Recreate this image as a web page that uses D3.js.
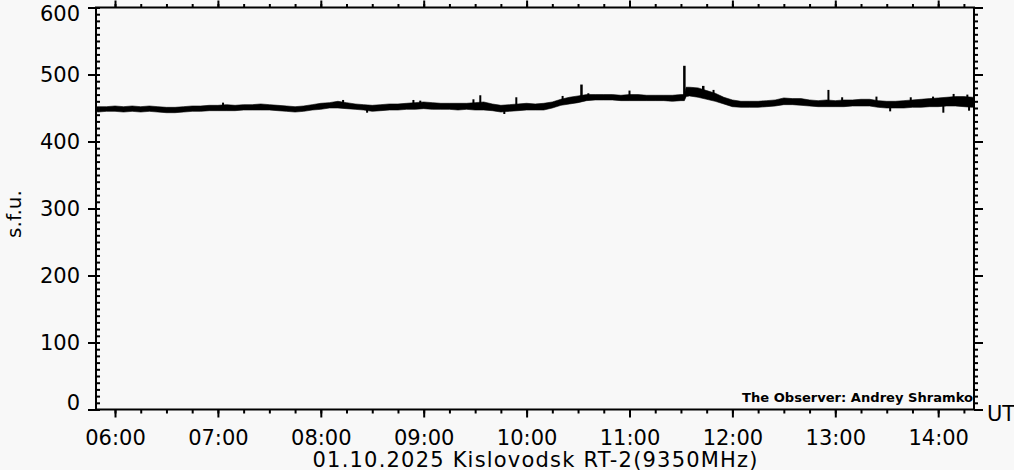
<!DOCTYPE html>
<html><head><meta charset="utf-8">
<script src="https://cdn.jsdelivr.net/npm/d3@7"></script>
<style>
html,body{margin:0;padding:0;background:#f8f8f8;}
svg{display:block;background:#f8f8f8;}
text{font-family:"DejaVu Sans",sans-serif;fill:#000;}
</style>
</head><body>
<svg id="c" width="1014" height="470"></svg>
<script>
// ---- data (flux in s.f.u., 9350 MHz, 01.10.2025 UT) ----
const times = [
  "05:49","05:50","05:55",
  "06:00","06:05","06:10","06:15","06:20","06:25","06:30","06:35","06:40","06:45","06:50","06:55",
  "07:00","07:05","07:10","07:15","07:20","07:25","07:30","07:35","07:40","07:45","07:50","07:55",
  "08:00","08:05","08:10","08:15","08:20","08:25","08:30","08:35","08:40","08:45","08:50","08:55",
  "09:00","09:05","09:10","09:15","09:20","09:25","09:30","09:35","09:40","09:45","09:50","09:55",
  "10:00","10:05","10:10","10:15","10:20","10:25","10:30","10:35","10:40","10:45","10:50","10:55",
  "11:00","11:05","11:10","11:15","11:20","11:25","11:30","11:32","11:33","11:35","11:40","11:45","11:50","11:55",
  "12:00","12:05","12:10","12:15","12:20","12:25","12:30","12:35","12:40","12:45","12:50","12:55",
  "13:00","13:05","13:10","13:15","13:20","13:25","13:30","13:35","13:40","13:45","13:50","13:55",
  "14:00","14:05","14:10","14:15","14:20","14:21"
];
const fluxLow = [
  445,444,445,
  445,444,445,444,445,444,443,443,444,445,445,446,
  446,446,446,447,447,447,447,446,445,444,445,447,
  448,450,450,449,448,447,445,446,447,447,448,448,
  449,448,448,448,447,448,447,447,446,444,445,446,
  447,447,447,450,454,456,458,461,462,462,462,461,
  461,461,461,461,461,460,461,461,467,468,466,463,460,456,
  452,451,451,451,452,453,455,455,454,453,452,452,
  452,452,453,453,453,451,450,450,450,451,451,452,
  452,453,453,452,451,452
];
const fluxHigh = [
  452,452,452,
  453,452,453,452,453,452,451,451,452,453,453,454,
  454,455,454,455,455,456,455,454,453,452,453,455,
  457,458,460,458,456,455,454,455,456,456,457,458,
  459,458,457,457,457,457,458,459,456,454,455,456,
  457,456,457,459,463,466,468,470,470,470,470,469,
  470,470,469,469,469,469,470,470,481,481,480,476,472,466,
  462,460,460,460,461,462,465,464,464,462,461,462,
  461,462,462,463,463,461,460,460,461,462,463,464,
  465,466,467,467,466,465
];
// short upward bursts (time, peak value)
const spikeTimes = ["07:03","08:13","08:54","08:58","09:29","09:33","09:54","10:21","10:32","10:36","11:00",
                    "11:32","11:37","11:43","11:49","12:56","13:04","13:24","13:44","13:57","14:09","14:17"];
const spikePeaks = [458,462,462,461,463,469,466,468,485,472,476,
                    513,480,483,477,477,466,467,466,467,471,470];
// short downward dips (time, minimum value)
const dipTimes = ["08:27","09:47","13:32","14:03","14:18"];
const dipValues = [443,441,445,443,446];

const yMajor = [0,100,200,300,400,500,600];
const xMajor = ["06:00","07:00","08:00","09:00","10:00","11:00","12:00","13:00","14:00"];
const titleText = "01.10.2025 Kislovodsk RT-2(9350MHz)";
const yLabel = "s.f.u.";
const xUnit = "UT";
const observer = "The Observer: Andrey Shramko";

// ---- drawing ----
const parse = s => { const [h,m] = s.split(":").map(Number); return new Date(Date.UTC(2025,9,1,h,m)); };
const svg = d3.select("#c");
const L = 96, R = 974, T = 7.5, B = 409.5;
const x = d3.scaleUtc()
  .domain([new Date(Date.UTC(2025,9,1,5,48,55)), new Date(Date.UTC(2025,9,1,14,20,53))])
  .range([L, R]);
const y = d3.scaleLinear().domain([0,600]).range([B, T]);

const data = times.map((t,i) => ({t: parse(t), lo: fluxLow[i], hi: fluxHigh[i]}));

const xMinor = d3.utcMinute.every(15).range(x.domain()[0], x.domain()[1]);
const yMinor = d3.range(0, 601, 10);

function styleAxis(g){
  g.select(".domain").remove();
  g.selectAll("line").attr("stroke","#000").attr("stroke-width",2);
  g.selectAll("text").attr("font-size",21).attr("font-family","DejaVu Sans, sans-serif");
}

// bottom
svg.append("g").attr("transform",`translate(0,${B})`)
  .call(d3.axisBottom(x).tickValues(xMinor).tickSize(4).tickFormat("")).call(styleAxis);
svg.append("g").attr("transform",`translate(0,${B})`)
  .call(d3.axisBottom(x).tickValues(xMajor.map(parse)).tickSize(8).tickPadding(12.5)
    .tickFormat(d3.utcFormat("%H:%M"))).call(styleAxis);
// top
svg.append("g").attr("transform",`translate(0,${T})`)
  .call(d3.axisTop(x).tickValues(xMinor).tickSize(3.5).tickFormat("")).call(styleAxis);
svg.append("g").attr("transform",`translate(0,${T})`)
  .call(d3.axisTop(x).tickValues(xMajor.map(parse)).tickSize(7).tickFormat("")).call(styleAxis);
// left
svg.append("g").attr("transform",`translate(${L},0)`)
  .call(d3.axisRight(y).tickValues(yMinor).tickSize(4).tickFormat("")).call(styleAxis);
const gl = svg.append("g").attr("transform",`translate(${L},0)`)
  .call(d3.axisLeft(y).tickValues(yMajor).tickSize(8).tickPadding(8).tickFormat(d3.format("d"))).call(styleAxis);
gl.selectAll(".tick").filter(d => d === 600).select("text").attr("dy","0.62em");
gl.selectAll(".tick").filter(d => d === 0).select("text").attr("dy","0.02em");
// right
svg.append("g").attr("transform",`translate(${R},0)`)
  .call(d3.axisRight(y).tickValues(yMinor).tickSize(4).tickFormat("")).call(styleAxis);
svg.append("g").attr("transform",`translate(${R},0)`)
  .call(d3.axisRight(y).tickValues(yMajor).tickSize(9).tickFormat("")).call(styleAxis);

// frame
svg.append("rect").attr("x",L).attr("y",T).attr("width",R-L).attr("height",B-T)
  .attr("fill","none").attr("stroke","#000").attr("stroke-width",2);

// flux band
const area = d3.area().x(d => x(d.t)).y0(d => y(d.lo)).y1(d => y(d.hi));
svg.append("path").datum(data).attr("d",area).attr("fill","#000").attr("stroke","#000").attr("stroke-width",0.6);

// bursts and dips
const bisect = d3.bisector(d => d.t).center;
function vline(s, v, w){
  const t = parse(s);
  const base = data[bisect(data, t)];
  svg.append("line").attr("x1",x(t)).attr("x2",x(t))
    .attr("y1",y((base.lo+base.hi)/2)).attr("y2",y(v))
    .attr("stroke","#000").attr("stroke-width",w);
}
spikeTimes.forEach((s,i) => vline(s, spikePeaks[i], spikePeaks[i] > 480 ? 2.5 : 2));
dipTimes.forEach((s,i) => vline(s, dipValues[i], 2));

// texts
svg.append("text").attr("x",(L+R)/2).attr("y",467).attr("text-anchor","middle")
  .attr("font-size",21).attr("textLength",445).attr("lengthAdjust","spacing").text(titleText);
svg.append("text").attr("transform","translate(21,214) rotate(-90)").attr("text-anchor","middle")
  .attr("font-size",20).text(yLabel);
svg.append("text").attr("x",987).attr("y",421).attr("font-size",21).text(xUnit);
svg.append("text").attr("x",R-1).attr("y",402).attr("text-anchor","end")
  .attr("font-size",13).attr("font-weight","bold").attr("textLength",231).attr("lengthAdjust","spacingAndGlyphs").text(observer);
</script>
</body></html>
